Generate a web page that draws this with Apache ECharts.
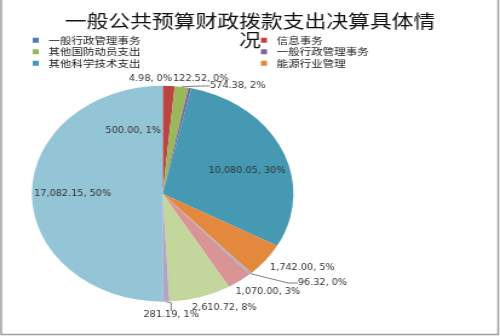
<!DOCTYPE html>
<html>
<head>
<meta charset="utf-8">
<script src="https://cdn.jsdelivr.net/npm/echarts@6/dist/echarts.min.js"></script>
<style>
html,body{margin:0;padding:0;background:#fff;overflow:hidden;}
#c{width:413px;height:336px;transform:scaleX(1.2107);transform-origin:0 0;}
</style>
</head>
<body>
<div id="c"></div>
<script>
// ---- data ----
const titleText = '一般公共预算财政拨款支出决算具体情\n况';
const categories = ['一般行政管理事务', '信息事务', '其他国防动员支出', '一般行政管理事务', '其他科学技术支出', '能源行业管理',
  '其他支出7', '其他支出8', '其他支出9', '其他支出10', '其他支出11'];
const values = [4.98, 500.00, 574.38, 122.52, 10080.05, 1742.00, 96.32, 1070.00, 2610.72, 281.19, 17082.15];
const legendLeftIdx = [0, 2, 4];
const legendRightIdx = [1, 3, 5];

// ---- styles ----
const colors = ['#4F7DB8', '#BA4543', '#9AB85A', '#7E64A0', '#4599B2', '#E3883C',
  '#A3B3CB', '#D99595', '#C3D69C', '#B3A3C8', '#94C5D6'];
const showLine = [false, false, true, false, false, false, true, false, false, true, false];
// label anchor [x, y, align] in chart (unscaled) pixels
const labelPos = [
  [142, 79, 'right'], [110, 131, 'center'], [173.5, 86, 'left'], [143, 79, 'left'],
  [204, 171, 'center'], [223, 268, 'left'], [246, 283, 'left'], [194.5, 292, 'left'],
  [158.5, 308, 'left'], [118.5, 315, 'left'], [60, 194, 'center']
];

const chart = echarts.init(document.getElementById('c'), null, {renderer: 'canvas'});
const keyOf = i => 'c' + i;
const legendFmt = n => categories[+n.slice(1)];
const legendCommon = {
  orient: 'vertical', top: 29.5, itemWidth: 5, itemHeight: 5, itemGap: 0,
  icon: 'rect', selectedMode: false, formatter: legendFmt,
  textStyle: {fontSize: 9.5, lineHeight: 11.5, color: '#1a1a1a', fontFamily: "'Noto Sans CJK SC'", padding: [0, 0, 0, 3]}
};

chart.setOption({
  animation: false,
  backgroundColor: '#fff',
  graphic: [{
    type: 'rect', silent: true, z: 100,
    shape: {x: 1, y: -2, width: 410.5, height: 336.5},
    style: {fill: 'none', stroke: '#9E9E9E', lineWidth: 1.5}
  }],
  title: {
    text: titleText, left: 'center', top: 6,
    textStyle: {fontSize: 18, fontWeight: 'normal', color: '#111', lineHeight: 19.5, fontFamily: "'Noto Sans CJK SC'"}
  },
  legend: [
    Object.assign({left: 22, data: legendLeftIdx.map(keyOf)}, legendCommon),
    Object.assign({left: 210.5, data: legendRightIdx.map(keyOf)}, legendCommon)
  ],
  series: [{
    type: 'pie',
    center: [134.3, 193.7],
    radius: 108,
    startAngle: 90,
    clockwise: true,
    avoidLabelOverlap: false,
    itemStyle: {borderWidth: 0},
    label: {
      show: true, position: 'outside', fontSize: 8, color: '#333',
      fontFamily: "'DejaVu Sans'",
      formatter: p => Number(p.value).toLocaleString('en-US', {minimumFractionDigits: 2, maximumFractionDigits: 2}) +
        ', ' + Math.round(p.percent) + '%'
    },
    labelLine: {show: true, length: 8, length2: 8, lineStyle: {color: '#7F7F7F', width: 1}},
    labelLayout: p => {
      const q = labelPos[p.dataIndex];
      return {x: q[0], y: q[1], align: q[2], verticalAlign: 'middle'};
    },
    data: values.map((v, i) => ({
      name: keyOf(i), value: v,
      itemStyle: {color: colors[i]},
      labelLine: {show: showLine[i]}
    }))
  }]
});
</script>
</body>
</html>
